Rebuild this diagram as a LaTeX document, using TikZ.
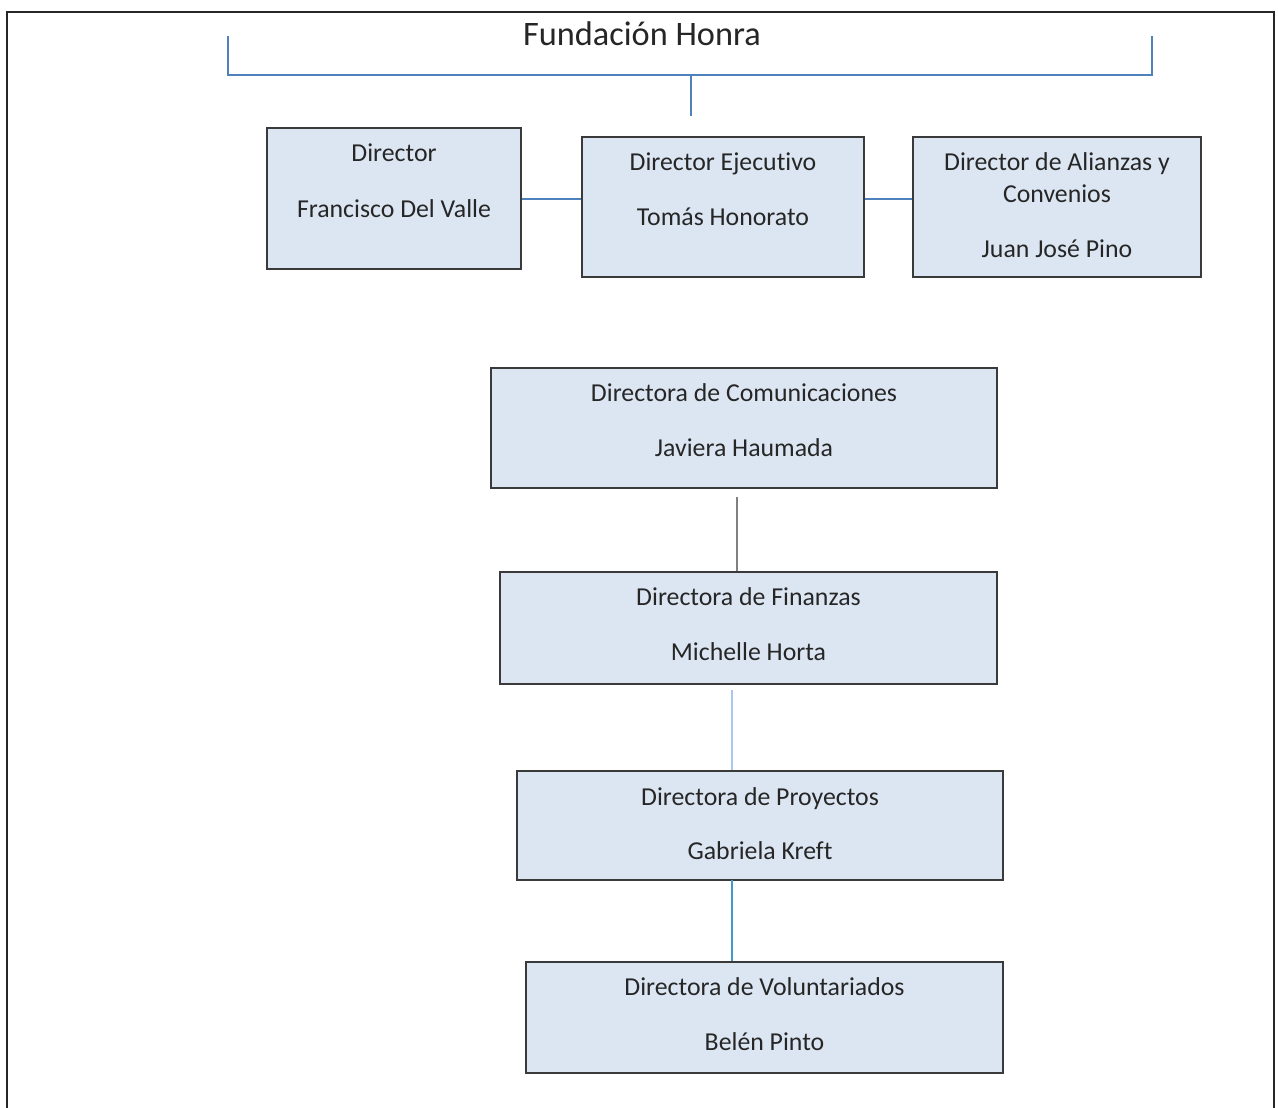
\documentclass[tikz,border=0pt]{standalone}
\usepackage{fontspec}
\setmainfont{Carlito}[Ligatures=NoCommon]
\definecolor{boxfill}{HTML}{DCE6F2}
\definecolor{boxline}{HTML}{3A3A3A}
\definecolor{conblue}{HTML}{4F81BD}
\definecolor{conlight}{HTML}{A9C8EE}
\definecolor{congray}{HTML}{808080}
\definecolor{txtcol}{HTML}{262626}
\begin{document}
\begin{tikzpicture}[x=1pt,y=-1pt,
  orgbox/.style={draw=boxline,fill=boxfill,line width=1.6pt,inner sep=0pt},
  txt/.style={anchor=base,text=txtcol,font=\fontsize{25.8}{30}\selectfont,inner sep=0pt},
  conn/.style={draw=conblue,line width=1.3pt}]
\useasboundingbox (0,0) rectangle (1278,1108);
\fill[white] (0,0) rectangle (1278,1108);
% outer frame
\draw[line width=2.4pt,color=black!85] (7,1110) -- (7,12) -- (1274,12) -- (1274,1110);
% title
\node[anchor=base,text=txtcol,font=\fontsize{34.3}{40}\selectfont,inner sep=0pt] (title) at (642,46) {Fundación Honra};
% bracket
\coordinate (bl) at (228,36);
\coordinate (br) at (1152,36);
\coordinate (bc) at (691,75);
\coordinate (bs) at (691,116);
\draw[conn] (bl) |- (bc) -| (br);
\draw[conn] (bc) -- (bs);
% top boxes
\node[orgbox,minimum width=254pt,minimum height=141pt] (dir) at (394,198.5) {};
\node[txt] (dir1) at (394,161) {Director};
\node[txt] (dir2) at (394,217) {Francisco Del Valle};
\node[orgbox,minimum width=282pt,minimum height=140pt] (eje) at (723,207) {};
\node[txt] (eje1) at (723,170) {Director Ejecutivo};
\node[txt] (eje2) at (723,225) {Tomás Honorato};
\node[orgbox,minimum width=288pt,minimum height=140pt] (ali) at (1057,207) {};
\node[txt] (ali1) at (1057,170) {Director de Alianzas y};
\node[txt] (ali2) at (1057,202) {Convenios};
\node[txt] (ali3) at (1057,257) {Juan José Pino};
\draw[conn] (dir.east |- 0,199) -- (eje.west |- 0,199);
\draw[conn] (eje.east |- 0,199) -- (ali.west |- 0,199);
% vertical chain
\node[orgbox,minimum width=506pt,minimum height=120pt] (com) at (744,428) {};
\node[txt] (com1) at (744,401) {Directora de Comunicaciones};
\node[txt] (com2) at (744,456) {Javiera Haumada};
\node[orgbox,minimum width=497pt,minimum height=112pt] (fin) at (748.5,628) {};
\node[txt] (fin1) at (748.5,605) {Directora de Finanzas};
\node[txt] (fin2) at (748.5,660) {Michelle Horta};
\node[orgbox,minimum width=486pt,minimum height=109pt] (pro) at (760,825.5) {};
\node[txt] (pro1) at (760,805) {Directora de Proyectos};
\node[txt] (pro2) at (760,859) {Gabriela Kreft};
\node[orgbox,minimum width=477pt,minimum height=111pt] (vol) at (764.5,1017.5) {};
\node[txt] (vol1) at (764.5,995) {Directora de Voluntariados};
\node[txt] (vol2) at (764.5,1050) {Belén Pinto};
\coordinate (c1) at (737,497);
\draw[draw=congray,line width=1.3pt] (c1) -- (c1 |- fin.north);
\coordinate (c2) at (732,690);
\draw[draw=conlight,line width=1.3pt] (c2) -- (c2 |- pro.north);
\coordinate (c3) at (732,880);
\draw[draw=conblue!80!cyan,line width=1.3pt] (c3) -- (c3 |- vol.north);
\end{tikzpicture}
\end{document}
